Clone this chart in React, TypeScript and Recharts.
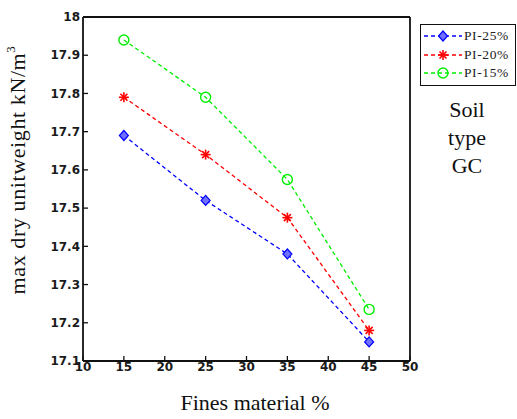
import React from 'react'
import { LineChart, Line, XAxis, YAxis, Legend } from 'recharts'

const fines = [15, 25, 35, 45]
const pi25 = [17.69, 17.52, 17.38, 17.15]
const pi20 = [17.79, 17.64, 17.475, 17.18]
const pi15 = [17.94, 17.79, 17.575, 17.235]
const xTicks = [10, 15, 20, 25, 30, 35, 40, 45, 50]
const yTicks = [17.1, 17.2, 17.3, 17.4, 17.5, 17.6, 17.7, 17.8, 17.9, 18]
const seriesOrder = ['pi25', 'pi20', 'pi15']

const data = fines.map((f, i) => ({ fines: f, pi25: pi25[i], pi20: pi20[i], pi15: pi15[i] }))

const kinds: Record<string, string> = { pi25: 'diamond', pi20: 'star', pi15: 'circle' }

const Marker = ({ kind, cx, cy, color }: { kind: string; cx: number; cy: number; color: string }) => {
  if (cx == null || cy == null) return null
  if (kind === 'diamond') {
    return <path d={`M${cx},${cy - 5} L${cx + 4.5},${cy} L${cx},${cy + 5} L${cx - 4.5},${cy} Z`} fill="#7070ff" stroke={color} strokeWidth={1.2} />
  }
  if (kind === 'star') {
    return (
      <g stroke={color} strokeWidth={1.6}>
        <line x1={cx - 5} y1={cy} x2={cx + 5} y2={cy} />
        <line x1={cx} y1={cy - 5} x2={cx} y2={cy + 5} />
        <line x1={cx - 3.5} y1={cy - 3.5} x2={cx + 3.5} y2={cy + 3.5} />
        <line x1={cx - 3.5} y1={cy + 3.5} x2={cx + 3.5} y2={cy - 3.5} />
      </g>
    )
  }
  return <circle cx={cx} cy={cy} r={5} fill="none" stroke={color} strokeWidth={1.4} />
}

const tickStyle = { fontFamily: 'DejaVu Sans', fontSize: 12, fontWeight: 'bold', fill: '#1a1a1a' }

const LegendBox = ({ payload }: any) => (
  <div style={{ width: 96, height: 62, border: '1.5px solid #111', background: '#fff', overflow: 'hidden', boxSizing: 'border-box', padding: '2px 0 0 2px' }}>
    {(payload || []).map((entry: any) => (
      <div key={entry.value} style={{ display: 'flex', alignItems: 'center', height: 18.5, whiteSpace: 'nowrap' }}>
        <svg width={40} height={14} style={{ flexShrink: 0 }}>
          <line x1={1} y1={7} x2={39} y2={7} stroke={entry.color} strokeWidth={1.3} strokeDasharray="4 3" />
          <Marker kind={kinds[entry.dataKey]} cx={20} cy={7} color={entry.color} />
        </svg>
        <span style={{ fontFamily: 'Liberation Serif', fontSize: 13.5, color: '#222', marginLeft: 1, letterSpacing: 0.6 }}>{entry.value}</span>
      </div>
    ))}
  </div>
)

const dotFor = (key: string, color: string) => (p: any) => (
  <Marker key={`${key}-${p.index}`} kind={kinds[key]} cx={p.cx} cy={p.cy} color={color} />
)

export default function App() {
  return (
    <div style={{ position: 'absolute', left: 0, top: 0, width: 517, height: 419, background: '#fff' }}>
      <LineChart width={517} height={419} data={data} margin={{ top: 12, right: 102, bottom: 0, left: 5 }}>
        <XAxis
          dataKey="fines"
          type="number"
          domain={[10, 50]}
          ticks={xTicks}
          tickSize={-5}
          tickMargin={6}
          height={58}
          axisLine={{ stroke: '#111', strokeWidth: 1.8 }}
          tickLine={{ stroke: '#111', strokeWidth: 1.3 }}
          tick={tickStyle}
          interval={0}
        />
        <XAxis
          xAxisId="top"
          orientation="top"
          type="number"
          domain={[10, 50]}
          ticks={xTicks}
          tickSize={-5}
          height={5}
          tick={false}
          axisLine={{ stroke: '#111', strokeWidth: 1.8 }}
          tickLine={{ stroke: '#111', strokeWidth: 1.3 }}
        />
        <YAxis
          type="number"
          domain={[17.1, 18]}
          ticks={yTicks}
          tickSize={-5}
          tickMargin={8}
          width={78}
          interval={0}
          tickFormatter={(v: number) => (Number.isInteger(v) ? String(v) : v.toFixed(1))}
          axisLine={{ stroke: '#111', strokeWidth: 1.8 }}
          tickLine={{ stroke: '#111', strokeWidth: 1.3 }}
          tick={tickStyle}
        />
        <YAxis
          yAxisId="right"
          orientation="right"
          type="number"
          domain={[17.1, 18]}
          ticks={yTicks}
          tickSize={-5}
          width={5}
          tick={false}
          axisLine={{ stroke: '#111', strokeWidth: 1.8 }}
          tickLine={{ stroke: '#111', strokeWidth: 1.3 }}
        />
        <Legend
          layout="vertical"
          align="center"
          verticalAlign="middle"
          itemSorter={(item: any) => seriesOrder.indexOf(item.dataKey)}
          content={<LegendBox />}
          wrapperStyle={{ position: 'absolute', left: 420, top: 24, width: 96, height: 62 }}
        />
        <Line dataKey="pi25" name="PI-25%" stroke="#0000ff" strokeWidth={1.3} strokeDasharray="4 3" dot={dotFor('pi25', '#0000ff')} isAnimationActive={false} />
        <Line dataKey="pi20" name="PI-20%" stroke="#ff0000" strokeWidth={1.3} strokeDasharray="4 3" dot={dotFor('pi20', '#ff0000')} isAnimationActive={false} />
        <Line dataKey="pi15" name="PI-15%" stroke="#00ee00" strokeWidth={1.3} strokeDasharray="4 3" dot={dotFor('pi15', '#00ee00')} isAnimationActive={false} />
        <text x={17} y={170} transform="rotate(-90 17 170)" textAnchor="middle" dominantBaseline="central" style={{ fontFamily: 'Liberation Serif', fontSize: 22, letterSpacing: 0.6, fill: '#111' }}>
          max dry unitweight kN/m<tspan dy={-7} fontSize={13}>3</tspan>
        </text>
        <text x={255} y={410} textAnchor="middle" style={{ fontFamily: 'Liberation Serif', fontSize: 22, fill: '#111' }}>
          Fines material %
        </text>
        <g style={{ fontFamily: 'Liberation Serif', fontSize: 22, fill: '#111' }} textAnchor="middle">
          <text x={467} y={117}>Soil</text>
          <text x={467} y={145}>type</text>
          <text x={467} y={173}>GC</text>
        </g>
      </LineChart>
    </div>
  )
}
